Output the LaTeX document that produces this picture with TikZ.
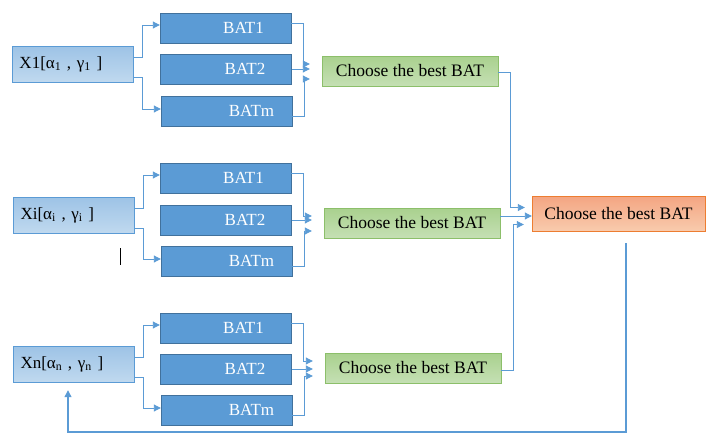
\documentclass[tikz,border=0pt]{standalone}
\usepackage{fontspec}
\setmainfont{Liberation Serif}
\usetikzlibrary{arrows.meta}
\definecolor{batblue}{HTML}{5B9BD5}
\definecolor{batedge}{HTML}{41719C}
\definecolor{xtop}{HTML}{9DC3E6}
\definecolor{xbot}{HTML}{C0D9EF}
\definecolor{gtop}{HTML}{A9D18E}
\definecolor{gbot}{HTML}{C5E0B4}
\definecolor{gedge}{HTML}{8CBF6A}
\definecolor{otop}{HTML}{F4A582}
\definecolor{obot}{HTML}{F8CBAD}
\definecolor{oedge}{HTML}{ED7D31}
\definecolor{wire}{HTML}{5B9BD5}

\begin{document}
\begin{tikzpicture}[x=1pt,y=-1pt]
  \tikzset{xbox/.style = {draw=batblue,top color=xtop,bottom color=xbot,minimum width=121pt,minimum height=36pt,inner sep=0pt,text width=107pt,align=left,font=\fontsize{17}{19}\selectfont}}
  \tikzset{bat/.style = {draw=batedge,fill=batblue,minimum width=131pt,minimum height=30pt,inner sep=0pt,text=white,font=\fontsize{17}{19}\selectfont}}
  \tikzset{best/.style = {draw=gedge,top color=gtop,bottom color=gbot,minimum width=176pt,minimum height=30pt,inner sep=0pt,font=\fontsize{17.5}{19}\selectfont}}
  \tikzset{final/.style = {draw=oedge,top color=otop,bottom color=obot,minimum width=173pt,minimum height=35pt,inner sep=0pt,font=\fontsize{17.5}{19}\selectfont}}
  \tikzset{flow/.style = {draw=wire,line width=1.3pt,-{Triangle[length=7pt,width=7pt]}}}
  \tikzset{link/.style = {flow,line width=0.9pt}}
  \useasboundingbox (0,0) rectangle (707,434);

  % first group
  \node[xbox] (x1) at (73,64) {X1[α\textsubscript{1} , γ\textsubscript{1} ]};
  \node[bat] (b11) at (225.5,28) {\hspace*{36pt}BAT1};
  \node[bat] (b12) at (226,69) {\hspace*{38pt}BAT2};
  \node[bat] (b1m) at (226.5,111) {\hspace*{50pt}BATm};
  \node[best] (g1) at (410,71) {Choose the best BAT};

  % second group
  \node[xbox] (xi) at (74,215) {Xi[α\textsubscript{i} , γ\textsubscript{i} ]};
  \node[bat] (b21) at (225.5,178) {\hspace*{36pt}BAT1};
  \node[bat] (b22) at (226,220) {\hspace*{38pt}BAT2};
  \node[bat] (b2m) at (226.5,261) {\hspace*{50pt}BATm};
  \node[best] (g2) at (412,223) {Choose the best BAT};

  % third group
  \node[xbox] (xn) at (74,364) {Xn[α\textsubscript{n} , γ\textsubscript{n} ]};
  \node[bat] (b31) at (225.5,328) {\hspace*{36pt}BAT1};
  \node[bat] (b32) at (226,369) {\hspace*{38pt}BAT2};
  \node[bat] (b3m) at (226.5,410) {\hspace*{50pt}BATm};
  \node[best] (g3) at (413,368) {Choose the best BAT};

  \node[final] (top) at (618.5,213.5) {Choose the best BAT};

  \foreach \x/\a/\b/\m/\g in {x1/b11/b12/b1m/g1, xi/b21/b22/b2m/g2, xn/b31/b32/b3m/g3}{
    \draw[link] ([yshift=7pt]\x.east) -- ++(9,0) |- ([yshift=3pt]\a.west);
    \draw[link] ([yshift=-13pt]\x.east) -- ++(9,0) |- ([yshift=2pt]\m.west);
    \draw[link,shorten >=12pt] ([yshift=5pt]\a.east) -- ++(12,0) |- ([yshift=7pt]\g.west);
    \draw[link,shorten >=12pt] (\b.east) -- (\b.east -| \g.west);
    \draw[link,shorten >=12pt] ([yshift=-5pt]\m.east) -- ++(12,0) |- ([yshift=-8pt]\g.west);
  }

  \draw[link,shorten >=7pt] ([yshift=-1pt]g1.east) -- ++(12,0) |- ([yshift=6pt]top.west);
  \draw[link] ([yshift=7pt]g2.east) -- ([yshift=-2.5pt]top.west);
  \draw[link,shorten >=8pt] ([yshift=-2pt]g3.east) -- ++(12,0) |- ([yshift=-11pt]top.west);

  % feedback
  \coordinate (turn) at (626,432);
  \draw[flow,shorten >=8pt] ([yshift=-12pt]top.south -| turn) -- (turn) -| (68,0 |- xn.south);

  \draw[line width=0.7pt] (120,248) -- (120,265);
\end{tikzpicture}
\end{document}
